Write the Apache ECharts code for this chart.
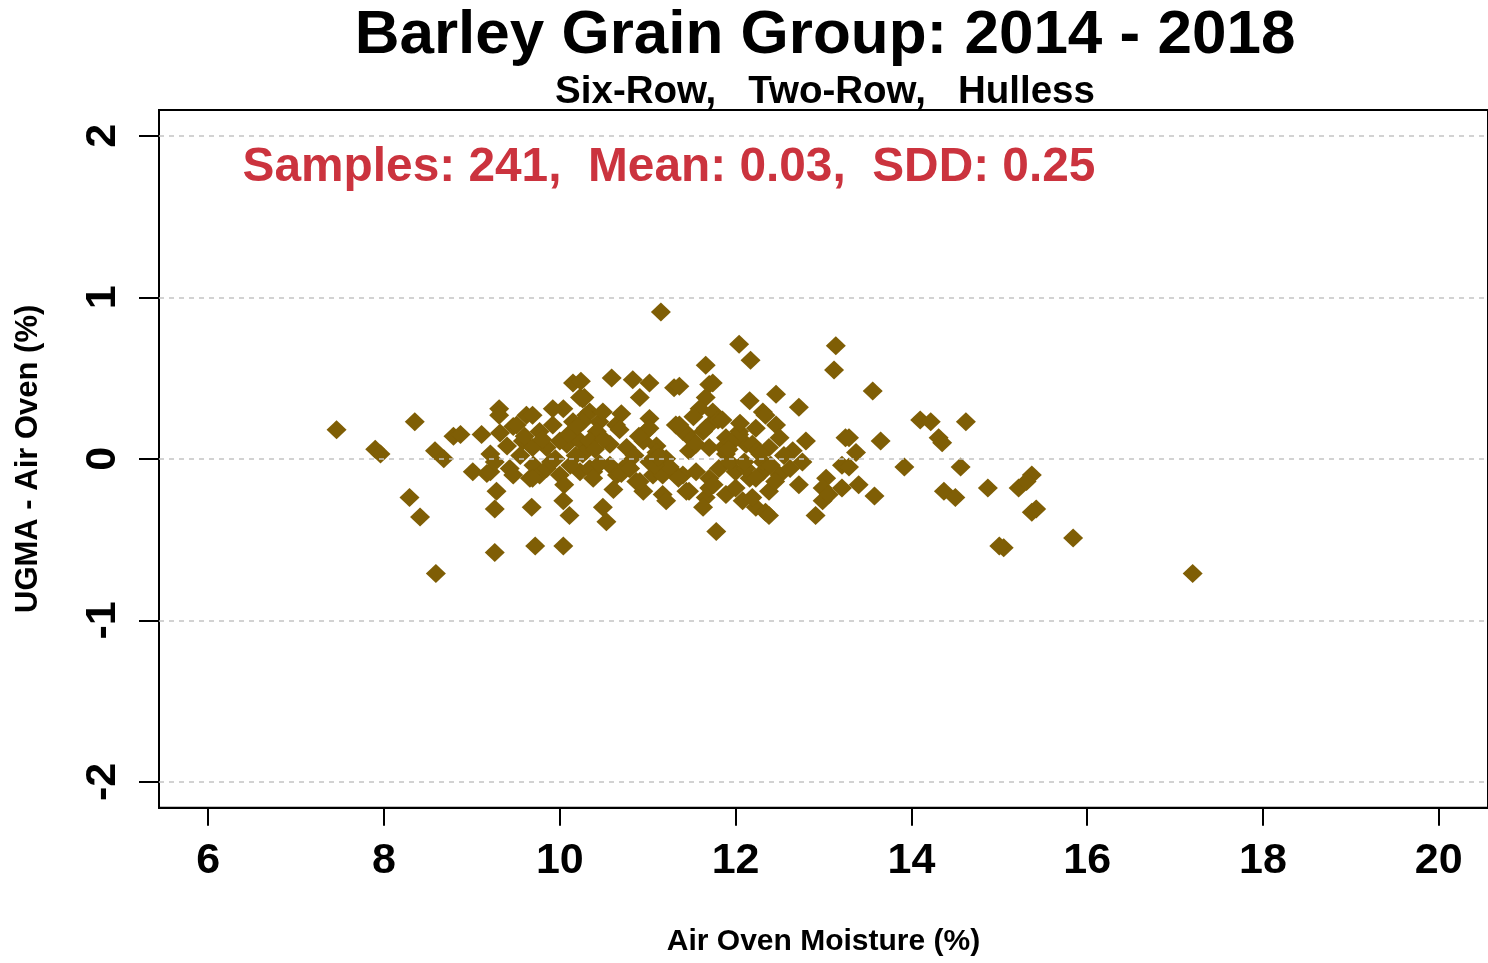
<!DOCTYPE html>
<html>
<head>
<meta charset="utf-8">
<script src="https://cdn.jsdelivr.net/npm/echarts@6/dist/echarts.min.js"></script>
<style>
html,body{margin:0;padding:0;background:#fff;}
#chart{width:1488px;height:963px;}
</style>
</head>
<body>
<div id="chart"></div>
<script>
// ---- data ----
const titleText = 'Barley Grain Group: 2014 - 2018';
const subtitleText = 'Six-Row,   Two-Row,   Hulless';
const statsText = 'Samples: 241,  Mean: 0.03,  SDD: 0.25';
const xAxisTitle = 'Air Oven Moisture (%)';
const yAxisTitle = 'UGMA - Air Oven (%)';
const xTicks = [6, 8, 10, 12, 14, 16, 18, 20];
const yTicks = [-2, -1, 0, 1, 2];
const xRange = [5.44, 20.56];
const yRange = [-2.16, 2.16];

// Air oven moisture (%)
const moisture = [
  7.46, 7.90, 7.96, 8.35, 8.29, 8.41, 8.59, 8.58, 8.68, 8.79,
  8.87, 9.11, 9.01, 9.17, 9.21, 9.21, 9.26, 9.28, 9.26, 9.31,
  9.31, 9.32, 9.26, 9.43, 9.47, 9.58, 9.62, 9.66, 9.68, 9.70,
  9.72, 9.77, 9.77, 9.85, 9.92, 10.00, 10.04, 10.04, 10.04, 10.08,
  10.11, 10.15, 10.15, 10.23, 10.23, 10.23, 10.30, 10.34, 10.38, 10.45,
  10.49, 10.53, 10.30, 10.42, 10.34, 10.26, 10.24, 10.28, 9.51, 9.69,
  9.92, 10.26, 10.26, 9.69, 10.00, 10.34, 9.85, 9.47, 9.69, 11.66,
  10.59, 10.83, 11.02, 11.30, 10.91, 11.70, 11.66, 12.16, 11.59, 11.74,
  10.49, 10.64, 11.02, 10.98, 11.32, 11.44, 11.63, 11.70, 12.31, 12.23,
  12.04, 11.89, 12.12, 10.57, 10.76, 10.95, 11.47, 11.70, 11.89, 10.57,
  10.79, 11.02, 11.21, 11.29, 11.06, 10.87, 11.70, 11.81, 12.00, 12.16,
  12.31, 10.61, 10.95, 11.17, 11.47, 11.66, 11.89, 12.08, 12.23, 11.63,
  11.78, 11.21, 12.34, 12.04, 12.17, 13.14, 13.12, 11.74, 11.36, 12.46,
  12.72, 12.34, 12.46, 11.40, 11.66, 12.04, 12.19, 12.50, 12.80, 13.25,
  11.86, 12.38, 12.65, 12.76, 13.21, 11.93, 12.12, 12.31, 11.40, 12.23,
  12.50, 13.03, 11.70, 12.00, 12.38, 12.72, 12.99, 13.21, 12.19, 12.99,
  12.38, 12.91, 11.15, 10.76, 10.91, 11.17, 11.44, 11.02, 11.36, 13.29,
  13.37, 13.29, 13.06, 13.56, 13.65, 13.40, 13.92, 14.10, 14.22, 14.31,
  14.35, 14.62, 14.56, 13.58, 14.37, 14.50, 14.87, 15.22, 15.37, 15.31,
  15.42, 15.37, 15.05, 15.00, 15.84, 17.20, 9.40, 9.55, 9.80, 9.90,
  10.10, 10.18, 10.40, 10.50, 10.65, 10.70, 10.85, 11.10, 11.25, 11.50,
  11.55, 11.80, 11.95, 12.10, 12.25, 12.40, 12.55, 10.05, 10.20, 10.45,
  10.70, 10.90, 11.10, 11.35, 11.55, 11.75, 12.05, 12.28, 9.60, 9.95,
  10.12, 10.38, 10.68, 11.08, 11.52, 11.92, 12.45, 10.80, 11.12, 11.85,
  12.62
];
// UGMA minus air oven (%)
const difference = [
  0.18, 0.06, 0.03, 0.23, -0.24, -0.36, -0.71, 0.05, 0.00, 0.14,
  0.15, 0.15, -0.08, -0.09, 0.03, -0.08, -0.02, -0.20, -0.31, 0.31,
  0.27, 0.16, -0.58, -0.06, 0.20, 0.11, 0.27, -0.12, -0.30, -0.04,
  -0.54, 0.17, -0.10, 0.07, 0.21, -0.10, 0.31, -0.26, -0.54, 0.09,
  -0.35, 0.47, 0.23, 0.38, 0.11, -0.08, 0.05, 0.29, -0.08, 0.23,
  -0.30, -0.39, 0.27, 0.17, 0.11, 0.03, 0.48, 0.38, 0.21, 0.27,
  0.31, 0.37, 0.23, 0.07, 0.11, -0.06, -0.06, -0.10, -0.12, 0.58,
  0.50, 0.49, 0.47, 0.44, 0.38, 0.46, 0.38, 0.36, 0.31, 0.29,
  0.29, 0.21, 0.25, 0.17, 0.21, 0.16, 0.17, 0.21, 0.29, 0.19,
  0.17, 0.13, 0.09, 0.09, 0.07, 0.11, 0.05, 0.07, 0.03, -0.04,
  -0.06, -0.02, 0.00, -0.08, -0.10, -0.14, -0.12, -0.06, -0.08, -0.12,
  -0.08, -0.19, -0.20, -0.22, -0.20, -0.24, -0.22, -0.26, -0.30, -0.30,
  -0.45, -0.26, -0.33, 0.71, 0.61, 0.70, 0.55, 0.47, 0.45, 0.40,
  0.32, 0.27, 0.21, 0.17, 0.19, 0.15, 0.09, 0.13, 0.11, 0.13,
  0.07, 0.07, 0.05, -0.02, -0.04, -0.02, -0.06, -0.02, -0.10, -0.12,
  -0.10, -0.12, -0.18, -0.18, -0.20, -0.16, -0.18, -0.18, -0.24, -0.26,
  -0.35, -0.35, 0.91, -0.04, -0.14, -0.10, -0.20, 0.19, 0.21, 0.13,
  0.04, -0.05, -0.22, 0.42, 0.11, -0.16, -0.05, 0.24, 0.23, 0.13,
  0.10, 0.23, -0.05, -0.23, -0.20, -0.24, -0.18, -0.18, -0.10, -0.14,
  -0.31, -0.33, -0.55, -0.54, -0.49, -0.71, 0.08, 0.02, 0.12, -0.02,
  0.15, 0.02, 0.06, 0.12, -0.10, 0.28, 0.02, 0.08, -0.05, 0.12,
  -0.08, 0.24, 0.10, -0.02, 0.05, -0.04, 0.02, -0.16, 0.20, -0.03,
  -0.09, 0.14, 0.04, -0.12, 0.09, -0.16, 0.22, 0.03, 0.14, 0.00,
  -0.04, -0.12, 0.18, -0.04, 0.26, 0.06, -0.14, -0.06, 0.01, 0.24,
  -0.06
];

const points = moisture.map((m, i) => [m, difference[i]]);

const chart = echarts.init(document.getElementById('chart'), null, {renderer: 'canvas'});
const FONT = 'Liberation Sans';

chart.setOption({
  animation: false,
  backgroundColor: '#ffffff',
  grid: {
    left: 159, top: 110, width: 1333, height: 697.7,
    show: true, borderColor: '#000', borderWidth: 2, backgroundColor: 'transparent'
  },
  graphic: [
    { type: 'text', x: 825, y: 36,
      style: { text: titleText, fontFamily: FONT, fontWeight: 'bold', fontSize: 62, fill: '#000', align: 'center', verticalAlign: 'middle' } },
    { type: 'text', x: 825, y: 92,
      style: { text: subtitleText, fontFamily: FONT, fontWeight: 'bold', fontSize: 38.5, fill: '#000', align: 'center', verticalAlign: 'middle' } },
    { type: 'text', x: 669, y: 168,
      style: { text: statsText, fontFamily: FONT, fontWeight: 'bold', fontSize: 47.8, fill: '#CB333E', align: 'center', verticalAlign: 'middle' } }
  ],
  xAxis: {
    type: 'value', min: xRange[0], max: xRange[1],
    name: xAxisTitle, nameLocation: 'middle', nameGap: 119,
    nameTextStyle: { fontFamily: FONT, fontWeight: 'bold', fontSize: 30, color: '#000' },
    axisLine: { show: true, onZero: false, lineStyle: { color: '#000', width: 2 } },
    axisTick: { show: true, length: 18, lineStyle: { color: '#000', width: 2 }, customValues: xTicks },
    axisLabel: { customValues: xTicks, margin: 32, fontFamily: FONT, fontWeight: 'bold', fontSize: 43, color: '#000' },
    splitLine: { show: false }
  },
  yAxis: {
    type: 'value', min: yRange[0], max: yRange[1],
    name: yAxisTitle, nameLocation: 'middle', nameGap: 115,
    nameTextStyle: { fontFamily: FONT, fontWeight: 'bold', fontSize: 31, color: '#000' },
    axisLine: { show: true, onZero: false, lineStyle: { color: '#000', width: 2 } },
    axisTick: { show: true, length: 20, lineStyle: { color: '#000', width: 2 }, customValues: yTicks },
    axisLabel: { customValues: yTicks, rotate: 90, margin: 34, fontFamily: FONT, fontWeight: 'bold', fontSize: 43, color: '#000' },
    splitLine: { show: false }
  },
  series: [{
    type: 'scatter',
    data: points,
    symbol: 'diamond',
    symbolSize: [20, 19],
    itemStyle: { color: '#7F5E05', opacity: 1 },
    markLine: {
      silent: true,
      symbol: 'none',
      label: { show: false },
      lineStyle: { color: '#c4c4c4', type: [5, 5], width: 1.5 },
      data: yTicks.map(v => ({ yAxis: v }))
    }
  }]
});
</script>
</body>
</html>
